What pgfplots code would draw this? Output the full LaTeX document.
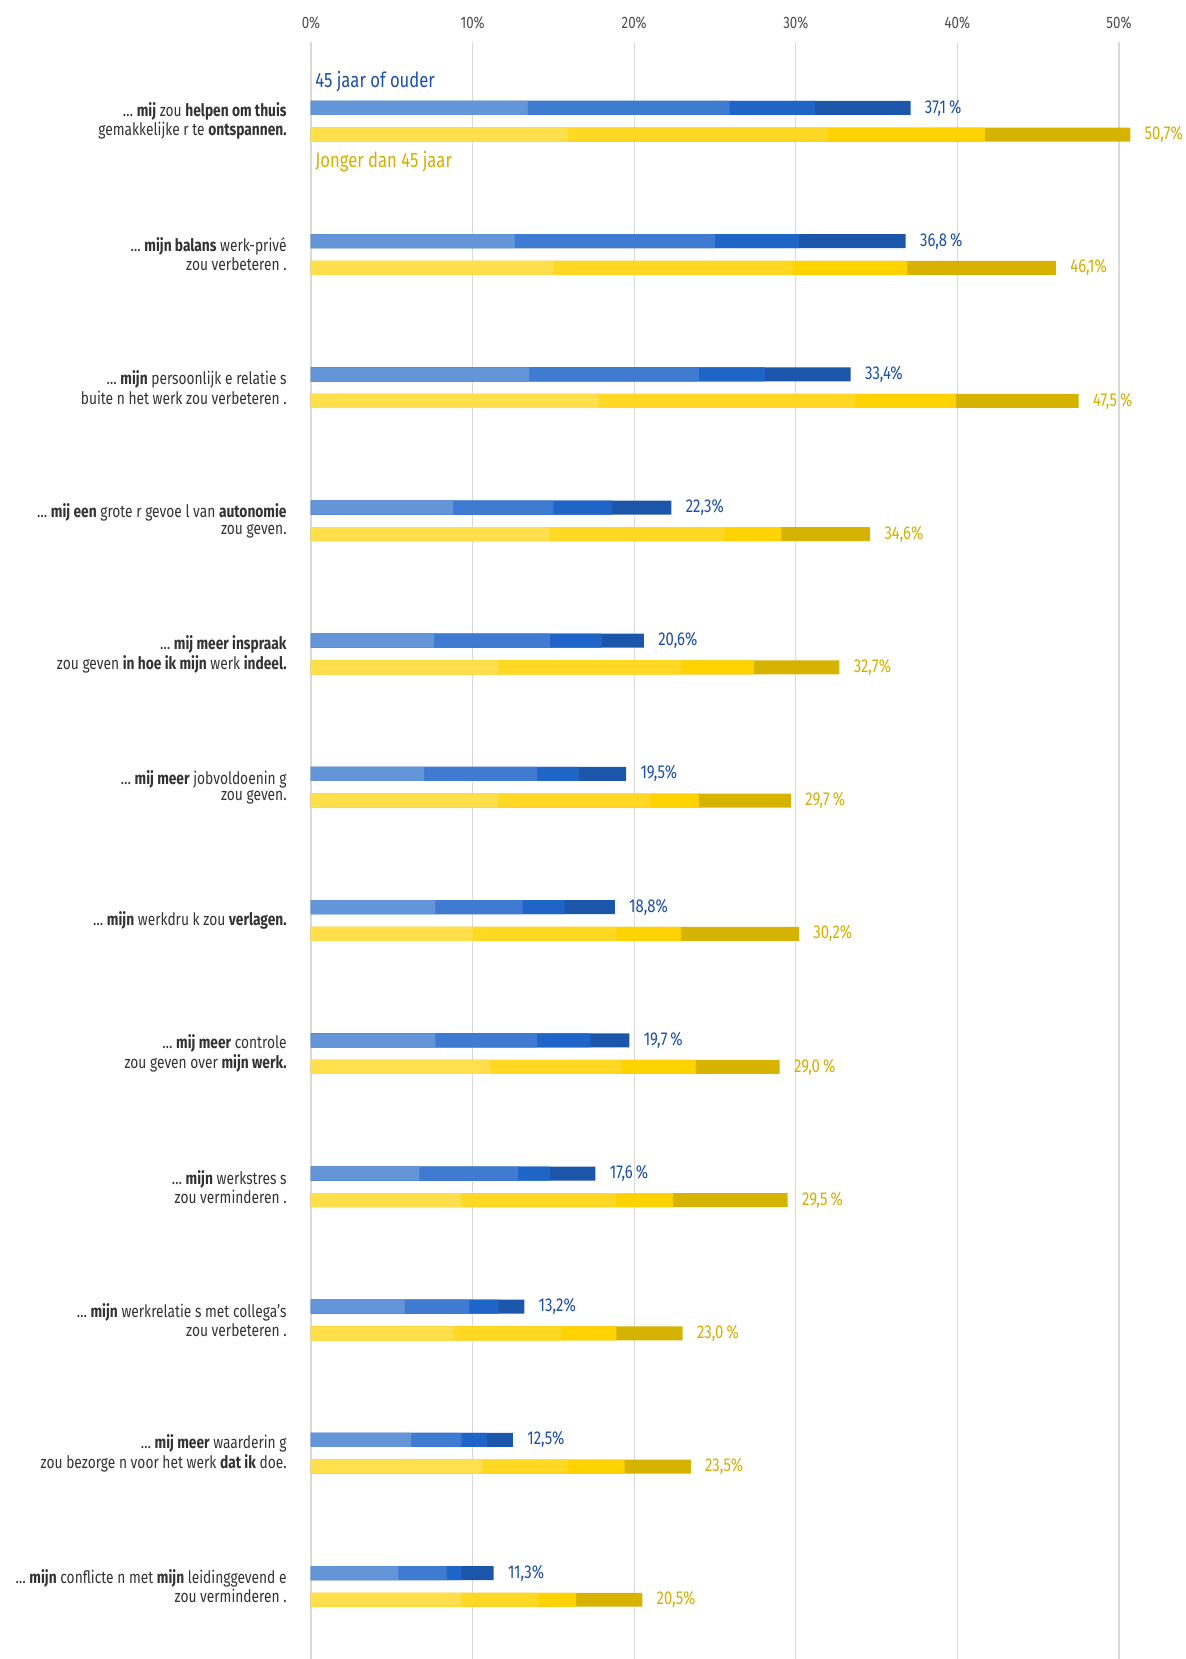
\documentclass[border=0pt]{standalone}
\usepackage{fontspec}
\setmainfont{Fira Sans}[FakeStretch=0.8]
\usepackage{pgfplots}
\pgfplotsset{compat=1.18}
\usepackage{pgfplotstable}

\definecolor{bA}{HTML}{6495D9}
\definecolor{bB}{HTML}{3F7CD1}
\definecolor{bC}{HTML}{1F65C8}
\definecolor{bD}{HTML}{1B56AA}
\definecolor{yA}{HTML}{FFDF4B}
\definecolor{yB}{HTML}{FFD824}
\definecolor{yC}{HTML}{FFD200}
\definecolor{yD}{HTML}{D6B300}
\definecolor{blueTxt}{HTML}{1B4FA6}
\definecolor{yelTxt}{HTML}{D4AE00}
\definecolor{txt}{HTML}{333333}

% cumulative segment ends, c4 = total
\pgfplotstableread[col sep=semicolon]{
y;c1;c2;c3;c4;lab
-0.1;13.4;25.9;31.2;37.1;37,1\,\%
0.9;12.6;25.0;30.2;36.8;36,8\,\%
1.9;13.5;24.0;28.1;33.4;33,4\%
2.9;8.8;15.0;18.6;22.3;22,3\%
3.9;7.6;14.8;18.0;20.6;20,6\%
4.9;7.0;14.0;16.6;19.5;19,5\%
5.9;7.7;13.1;15.7;18.8;18,8\%
6.9;7.7;14.0;17.3;19.7;19,7\,\%
7.9;6.7;12.8;14.8;17.6;17,6\,\%
8.9;5.8;9.8;11.6;13.2;13,2\%
9.9;6.2;9.3;10.9;12.5;12,5\%
10.9;5.4;8.4;9.3;11.3;11,3\%
}\older

\pgfplotstableread[col sep=semicolon]{
y;c1;c2;c3;c4;lab
0.1;15.9;32.0;41.7;50.7;50,7\%
1.1;15.0;29.8;36.9;46.1;46,1\%
2.1;17.8;33.7;39.9;47.5;47,5\,\%
3.1;14.8;25.6;29.1;34.6;34,6\%
4.1;11.6;22.9;27.4;32.7;32,7\%
5.1;11.6;21.0;24.0;29.7;29,7\,\%
6.1;10.0;18.9;22.9;30.2;30,2\%
7.1;11.1;19.2;23.8;29.0;29,0\,\%
8.1;9.3;18.9;22.4;29.5;29,5\,\%
9.1;8.8;15.5;18.9;23.0;23,0\,\%
10.1;10.6;15.9;19.4;23.5;23,5\%
11.1;9.3;14.1;16.4;20.5;20,5\%
}\younger

\pgfplotsset{seg/.style={xbar, bar shift=0pt, bar width=0.105, draw=none, fill=#1}}

\begin{document}
\begin{tikzpicture}
\begin{axis}[
  at={(0,0)}, anchor=south west,
  scale only axis,
  width=404pt, height=808.5pt,
  xmin=0, xmax=50,
  ymin=-0.595, ymax=11.545,
  y dir=reverse,
  clip=false,
  axis line style={draw=none},
  major tick length=0pt,
  xtick={0,10,...,50},
  xticklabel pos=upper,
  xticklabel={\pgfmathprintnumber{\tick}\%},
  /pgf/number format/assume math mode=true,
  xticklabel style={font=\fontsize{8.3}{9}\selectfont, text=black!70, anchor=south, inner sep=0pt, yshift=6.2pt},
  xmajorgrids,
  grid style={draw=black!15, line width=0.6pt},
  ytick={0,...,11},
  yticklabels={
    {… \textbf{mij} zou \textbf{helpen om thuis}\\gemakkelijke r te \textbf{ontspannen.}},
    {… \textbf{mijn balans} werk-privé\\zou verbeteren .},
    {… \textbf{mijn} persoonlijk e relatie s\\buite n het werk zou verbeteren .},
    {… \textbf{mij een} grote r gevoe l van \textbf{autonomie}\\zou geven.},
    {… \textbf{mij meer inspraak}\\zou geven \textbf{in hoe ik mijn} werk \textbf{indeel.}},
    {… \textbf{mij meer} jobvoldoenin g\\zou geven.},
    {… \textbf{mijn} werkdru k zou \textbf{verlagen.}},
    {… \textbf{mij meer} controle\\zou geven over \textbf{mijn werk.}},
    {… \textbf{mijn} werkstres s\\zou verminderen .},
    {… \textbf{mijn} werkrelatie s met collega's\\zou verbeteren .},
    {… \textbf{mij meer} waarderin g\\zou bezorge n voor het werk \textbf{dat ik} doe.},
    {… \textbf{mijn} conflicte n met \textbf{mijn} leidinggevend e\\zou verminderen .}
  },
  yticklabel style={font=\fontsize{8.6}{8.2}\selectfont, text=txt, align=right, anchor=east, inner sep=0pt, xshift=-12pt},
  every node near coord/.append style={anchor=west, inner sep=0pt, xshift=7pt, font=\fontsize{9.3}{10}\selectfont},
]
% 45 jaar of ouder
\addplot[seg=bD, nodes near coords, point meta=explicit symbolic,
  every node near coord/.append style={text=blueTxt}]
  table[x=c4, y=y, meta=lab] {\older};
\addplot[seg=bC] table[x=c3, y=y] {\older};
\addplot[seg=bB] table[x=c2, y=y] {\older};
\addplot[seg=bA] table[x=c1, y=y] {\older};
% Jonger dan 45 jaar
\addplot[seg=yD, nodes near coords, point meta=explicit symbolic,
  every node near coord/.append style={text=yelTxt}]
  table[x=c4, y=y, meta=lab] {\younger};
\addplot[seg=yC] table[x=c3, y=y] {\younger};
\addplot[seg=yB] table[x=c2, y=y] {\younger};
\addplot[seg=yA] table[x=c1, y=y] {\younger};

\node[anchor=west, inner sep=0pt, xshift=2pt, text=blueTxt, font=\fontsize{10.4}{11}\selectfont]
  at (axis cs:0,-0.295) {45 jaar of ouder};
\node[anchor=west, inner sep=0pt, xshift=2pt, text=yelTxt, font=\fontsize{10.4}{11}\selectfont]
  at (axis cs:0,0.306) {Jonger dan 45 jaar};
\end{axis}
\pgfresetboundingbox
\path[use as bounding box] (-155.5pt,0pt) rectangle (437.5pt,829.5pt);
\end{tikzpicture}
\end{document}
